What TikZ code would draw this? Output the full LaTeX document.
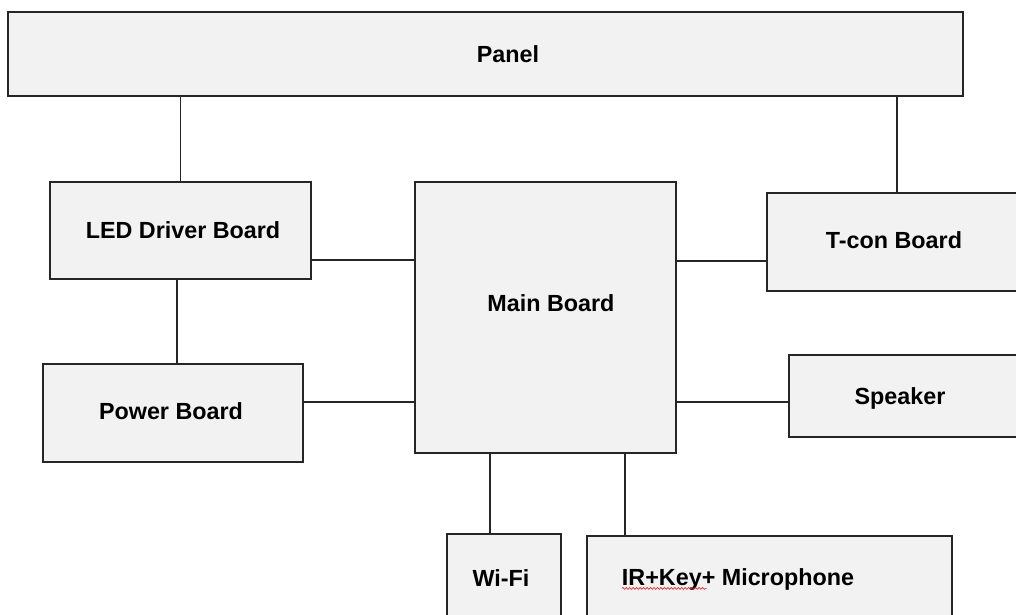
\documentclass[tikz,border=0pt]{standalone}
\usepackage{fontspec}
\setmainfont{Liberation Sans}
\usepackage{tikz}
\usetikzlibrary{positioning,decorations.pathmorphing}
\definecolor{boardfill}{RGB}{242,242,242}
\definecolor{edgegray}{RGB}{38,38,38}
\definecolor{spellred}{RGB}{225,40,40}

\begin{document}
\begin{tikzpicture}[x=0.75pt,y=-0.75pt,
    board/.style={draw=edgegray, line width=1.3pt, fill=boardfill, inner sep=0pt},
    lbl/.style={font=\fontsize{17.5}{21}\selectfont\bfseries, text=black, inner sep=0pt, text depth=0pt},
    wire/.style={draw=edgegray, line width=1pt}]
    \useasboundingbox (0,0) rectangle (1016,614);
    \fill[white] (0,0) rectangle (1016,614);
    \clip (0,0) rectangle (1016,614);

    % boards
    \node[board, minimum width=716.25pt, minimum height=63pt,
          label={[lbl, name=panelT, xshift=16.9pt]center:Panel}] (panel) at (485.5,54) {};
    \node[board, minimum width=195.75pt, minimum height=72.75pt,
          label={[lbl, name=ledT, xshift=1.9pt]center:LED Driver Board}] (led) at (180.5,230.5) {};
    \node[board, minimum width=195pt, minimum height=73.5pt,
          label={[lbl, name=powerT, xshift=-1.5pt, yshift=1.5pt]center:Power Board}] (power) at (173,413) {};
    \node[board, minimum width=195.75pt, minimum height=203.25pt,
          label={[lbl, name=mainT, xshift=4.1pt, yshift=10.9pt]center:Main Board}] (main) at (545.5,317.5) {};
    \node[board, minimum width=197.25pt, minimum height=73.5pt,
          label={[lbl, name=tconT, xshift=-3.4pt, yshift=1.5pt]center:T-con Board}] (tcon) at (898.5,242) {};
    \node[board, minimum width=180.75pt, minimum height=61.5pt,
          label={[lbl, name=speakerT, xshift=-7.1pt]center:Speaker}] (speaker) at (909.5,396) {};
    \node[board, minimum width=85.5pt, minimum height=79.5pt,
          label={[lbl, name=wifiT, xshift=-2.25pt, yshift=6.75pt]center:Wi-Fi}] (wifi) at (504,587) {};
    \node[board, minimum width=273.75pt, minimum height=78pt,
          label={[lbl, name=irT, xshift=-23.6pt, yshift=8.25pt]center:IR+Key+ Microphone}] (ir) at (769.5,588) {};

    % spell-check mark
    \draw[spellred, line width=0.5pt, decorate, decoration={snake, amplitude=0.7pt, segment length=2.6pt}]
        ([yshift=-2pt]irT.south west) -- ++(63.75pt,0);

    % connections
    \draw[wire] (led.north) -- (led.north |- panel.south);
    \draw[wire] ([xshift=-1.1pt]tcon.north) -- ([xshift=-1.1pt]tcon.north |- panel.south);
    \draw[wire] ([xshift=-2.6pt]led.south) -- ([xshift=-2.6pt]led.south |- power.north);
    \draw[wire] (led.east |- 0,260) -- (main.west |- 0,260);
    \draw[wire] (power.east |- 0,402) -- (main.west |- 0,402);
    \draw[wire] (main.east |- 0,261) -- (tcon.west |- 0,261);
    \draw[wire] (main.east |- 0,402) -- (speaker.west |- 0,402);
    \draw[wire] (main.south -| 490,0) -- (wifi.north -| 490,0);
    \draw[wire] (main.south -| 625,0) -- (ir.north -| 625,0);
\end{tikzpicture}
\end{document}
